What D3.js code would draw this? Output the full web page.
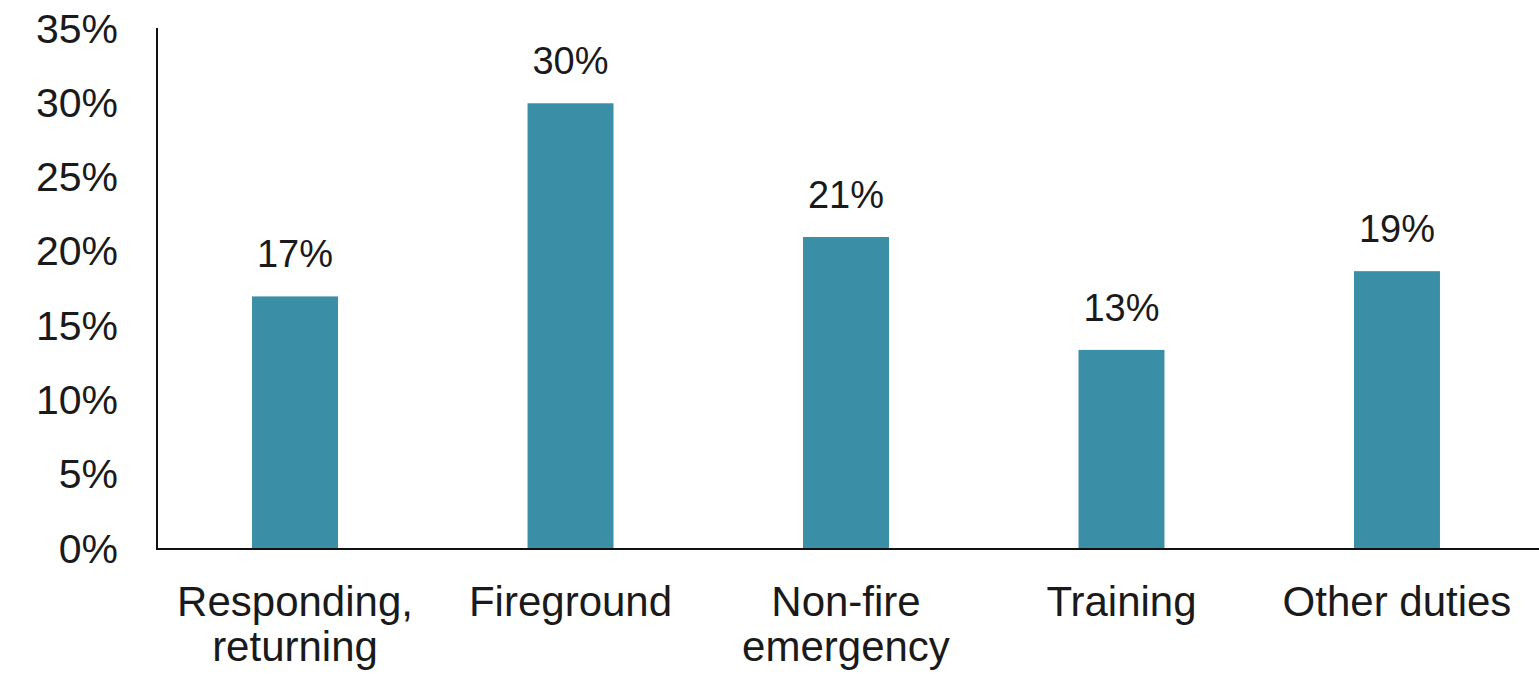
<!DOCTYPE html>
<html>
<head>
<meta charset="utf-8">
<script src="https://cdn.jsdelivr.net/npm/d3@7"></script>
<style>
  html, body { margin: 0; padding: 0; background: #fff; }
  svg { display: block; font-family: "Liberation Sans", Arial, sans-serif; }
</style>
</head>
<body>
<svg id="chart" width="1539" height="674"></svg>
<script>
const categories = [["Responding,", "returning"], ["Fireground"], ["Non-fire", "emergency"], ["Training"], ["Other duties"]];
const categoryKeys = ["Responding, returning", "Fireground", "Non-fire emergency", "Training", "Other duties"];
const values = [0.17, 0.30, 0.21, 0.134, 0.187];
const yTicks = [0, 0.05, 0.10, 0.15, 0.20, 0.25, 0.30, 0.35];

const svg = d3.select("#chart");
const mLeft = 157, mRight = 1535, mTop = 29, mBottom = 549;

const x = d3.scaleBand().domain(categoryKeys).range([mLeft, mRight]).paddingInner(0.688).paddingOuter(0.345);
const y = d3.scaleLinear().domain([0, 0.35]).range([mBottom, mTop]);
const fmt = d3.format(".0%");

// bars
svg.append("g").selectAll("rect").data(values).join("rect")
  .attr("x", (d, i) => x(categoryKeys[i]))
  .attr("y", d => y(d))
  .attr("width", x.bandwidth())
  .attr("height", d => y(0) - y(d))
  .attr("fill", "#3a8ea5");

// value labels
svg.append("g").selectAll("text").data(values).join("text")
  .attr("x", (d, i) => x(categoryKeys[i]) + x.bandwidth() / 2)
  .attr("y", d => y(d) - 29)
  .attr("text-anchor", "middle")
  .attr("font-size", 38)
  .attr("fill", "#1a1a1a")
  .text(d => fmt(d));

// y axis
const yAxis = d3.axisLeft(y).tickValues(yTicks).tickFormat(fmt).tickSize(0).tickPadding(39);
const gy = svg.append("g").attr("transform", `translate(${mLeft},0)`).call(yAxis);
gy.select(".domain").remove();
gy.selectAll("text").attr("font-size", 41).attr("fill", "#1a1a1a").attr("font-family", "Liberation Sans, Arial, sans-serif");

svg.append("line").attr("x1", mLeft).attr("x2", mLeft).attr("y1", mTop - 1).attr("y2", mBottom + 1)
  .attr("stroke", "#111").attr("stroke-width", 2);
svg.append("line").attr("x1", mLeft - 1).attr("x2", 1539).attr("y1", mBottom).attr("y2", mBottom)
  .attr("stroke", "#111").attr("stroke-width", 2);

// x labels
const xl = svg.append("g").selectAll("text").data(categories).join("text")
  .attr("x", (d, i) => x(categoryKeys[i]) + x.bandwidth() / 2)
  .attr("y", 616)
  .attr("text-anchor", "middle")
  .attr("font-size", 42)
  .attr("fill", "#1a1a1a");
xl.each(function(lines, i) {
  const t = d3.select(this);
  lines.forEach((ln, j) => {
    t.append("tspan").attr("x", x(categoryKeys[i]) + x.bandwidth() / 2).attr("dy", j === 0 ? 0 : 45).text(ln);
  });
});
</script>
</body>
</html>
